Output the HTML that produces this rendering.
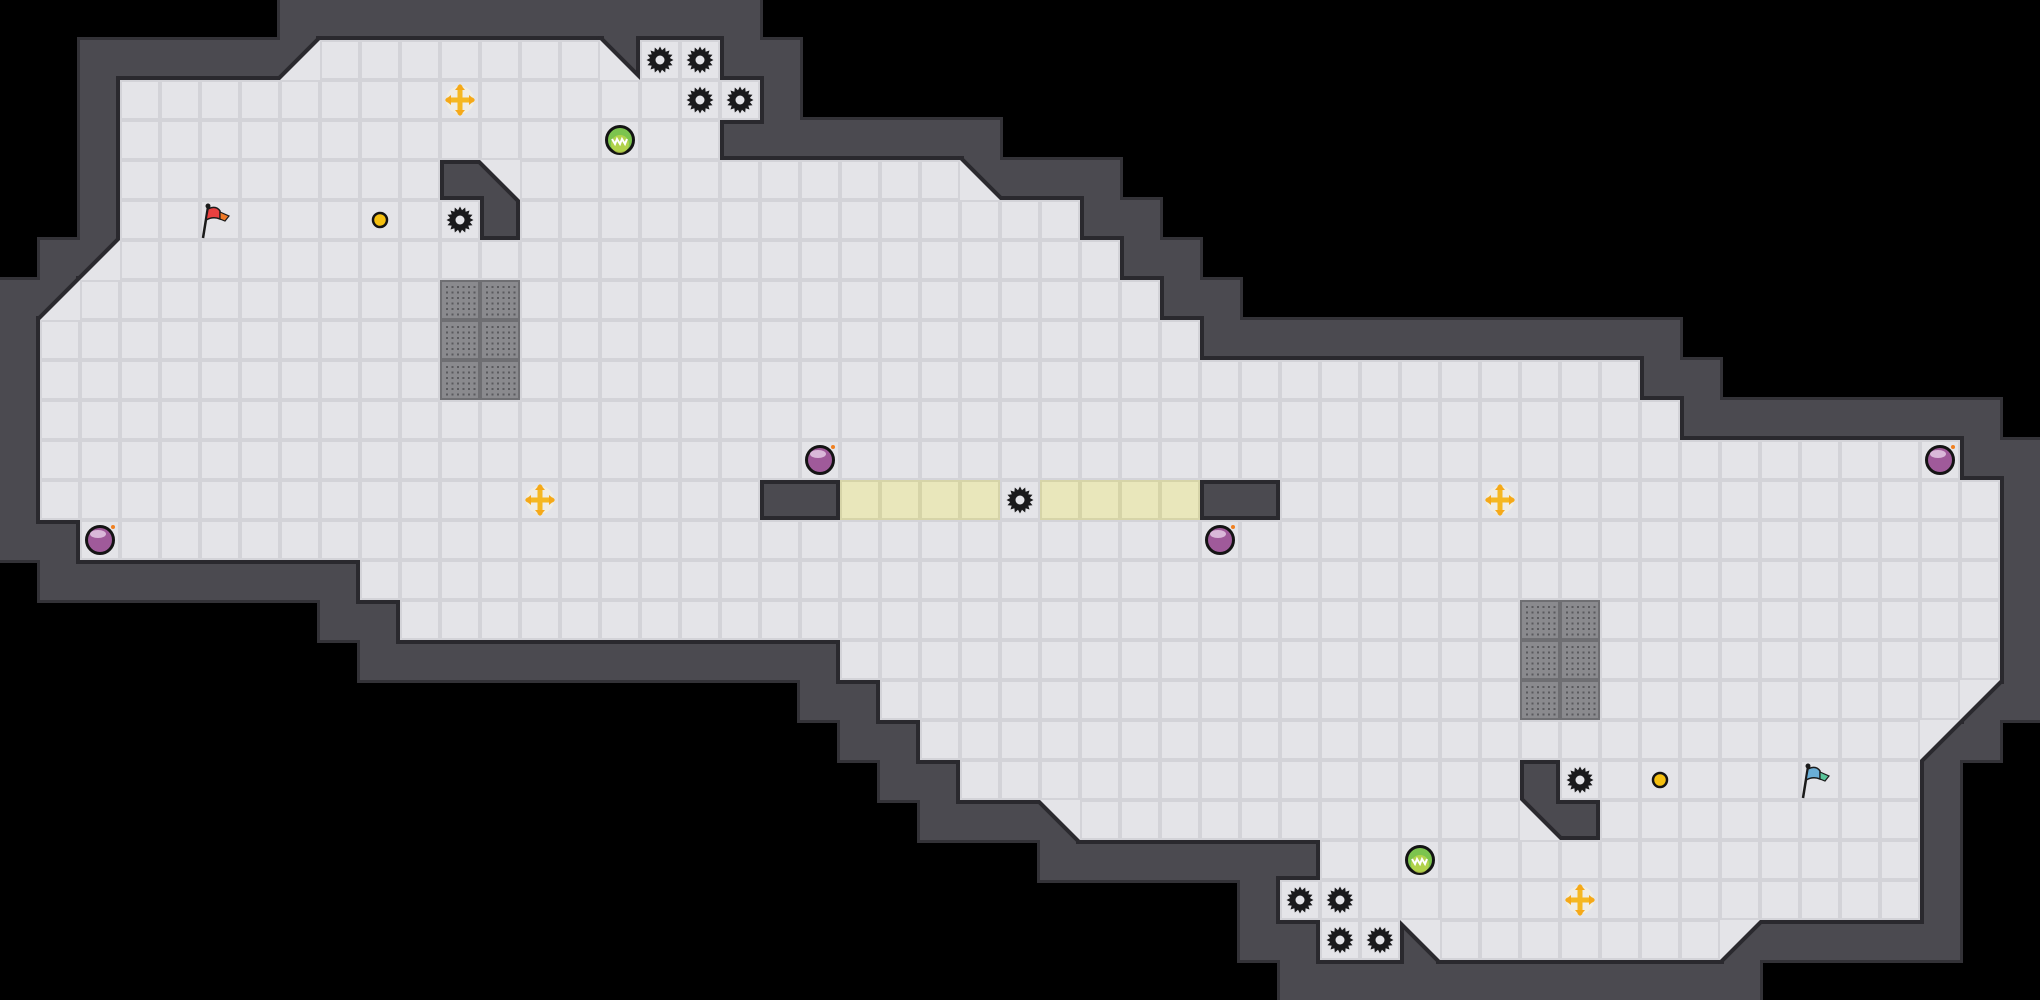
<!DOCTYPE html>
<html><head><meta charset="utf-8"><style>
html,body{margin:0;padding:0;background:#000;width:2040px;height:1000px;overflow:hidden}
svg{display:block}
</style></head><body>
<svg id="s" width="2040" height="1000" viewBox="0 0 2040 1000" xmlns="http://www.w3.org/2000/svg">
<rect width="2040" height="1000" fill="#000"/>
<g id="walls"></g><g id="outl"></g><g id="floor"></g><g id="items"></g>
</svg>
<script>
(function(){
var T=40,NS="http://www.w3.org/2000/svg";
var rows={1:[[8,14],[16,17]],2:[[3,18]],3:[[3,17]],4:[[3,10],[13,23]],5:[[3,11],[13,26]],6:[[3,27]],7:[[2,28]],8:[[1,29]],9:[[1,40]],10:[[1,41]],11:[[1,48]],12:[[1,18],[21,29],[32,49]],13:[[2,49]],14:[[9,49]],15:[[10,49]],16:[[21,49]],17:[[22,48]],18:[[23,47]],19:[[24,37],[39,47]],20:[[27,37],[40,47]],21:[[33,47]],22:[[32,47]],23:[[33,34],[36,42]]};
var diags=[[7,1,"br"],[15,1,"bl"],[12,4,"tr"],[24,4,"bl"],[2,6,"br"],[1,7,"br"],[49,17,"tl"],[48,18,"tl"],[26,20,"tr"],[38,20,"bl"],[35,23,"tr"],[43,23,"tl"]];
var F={},D={};
for(var r in rows){rows[r].forEach(function(a){for(var c=a[0];c<=a[1];c++)F[c+","+r]=1;});}
diags.forEach(function(d){D[d[0]+","+d[1]]=d[2];});
function el(t,a,p){var e=document.createElementNS(NS,t);for(var k in a)e.setAttribute(k,a[k]);document.getElementById(p).appendChild(e);return e;}
var W={};
for(var k in F){var p=k.split(",").map(Number);for(var dx=-1;dx<=1;dx++)for(var dy=-1;dy<=1;dy++){var q=(p[0]+dx)+","+(p[1]+dy);if(!F[q])W[q]=1;}}
for(var k in W){var p=k.split(",").map(Number);el("rect",{x:p[0]*T-3,y:p[1]*T-3,width:T+6,height:T+6,fill:"#333237"},"walls");}
for(var k in W){var p=k.split(",").map(Number);el("rect",{x:p[0]*T,y:p[1]*T,width:T,height:T,fill:"#4b4a50"},"walls");}
function tri(c,r,t){var x=c*T,y=r*T,X=x+T,Y=y+T;var m={br:[[X,y],[X,Y],[x,Y]],bl:[[x,y],[x,Y],[X,Y]],tl:[[x,y],[X,y],[x,Y]],tr:[[x,y],[X,y],[X,Y]]}[t];return m.map(function(a){return a.join(",")}).join(" ");}
for(var k in F){var p=k.split(",").map(Number);el("rect",{x:p[0]*T-4,y:p[1]*T-4,width:T+8,height:T+8,fill:"#2a292e"},"outl");}
diags.forEach(function(d){el("polygon",{points:tri(d[0],d[1],d[2]),fill:"#2a292e",stroke:"#2a292e","stroke-width":8,"stroke-linejoin":"round"},"outl");});
var yellow={};[21,22,23,24,26,27,28,29].forEach(function(c){yellow[c+",12"]=1;});
var grate={};[[11,7],[12,7],[11,8],[12,8],[11,9],[12,9],[38,15],[39,15],[38,16],[39,16],[38,17],[39,17]].forEach(function(a){grate[a[0]+","+a[1]]=1;});
diags.forEach(function(d){el("polygon",{points:tri(d[0],d[1],d[2]),fill:"#e4e4e8"},"floor");});
for(var k in F){var p=k.split(",").map(Number),x=p[0]*T,y=p[1]*T;
 var base="#d3d3d8",tcol="#e4e4e8";
 if(yellow[k]){base="#d6d4a8";tcol="#e9e7bb";}
 if(grate[k]){base="#6e6e72";tcol="#8a8a8e";}
 el("rect",{x:x,y:y,width:T,height:T,fill:base},"floor");
 el("rect",{x:x+2,y:y+2,width:T-4,height:T-4,fill:tcol},"floor");
 if(grate[k]){for(var i=0;i<6;i++)for(var j=0;j<6;j++)el("rect",{x:x+6+i*5.5,y:y+6+j*5.5,width:2,height:2,fill:"#5a5a5e"},"floor");}
}
function cx(c){return c*T+20}
function gear(c,r){var X=cx(c),Y=cx(r),pts=[];for(var i=0;i<32;i++){var a=i*Math.PI/16,R=i%2?10:13.5;pts.push((X+R*Math.cos(a)).toFixed(1)+","+(Y+R*Math.sin(a)).toFixed(1));}
 el("polygon",{points:pts.join(" "),fill:"#1a1a1c"},"items");el("circle",{cx:X,cy:Y,r:4.5,fill:"#e4e4e8"},"items");}
[[16,1],[17,1],[17,2],[18,2],[11,5],[25,12],[39,19],[32,22],[33,22],[33,23],[34,23]].forEach(function(a){gear(a[0],a[1]);});
function star(c,r){var X=cx(c),Y=cx(r);el("circle",{cx:X,cy:Y,r:14,fill:"#f2efe0",opacity:0.8},"items");
 el("path",{d:"M"+(X-12)+","+Y+"H"+(X+12)+"M"+X+","+(Y-13)+"V"+(Y+13),stroke:"#f5b820","stroke-width":5,"stroke-linecap":"round"},"items");
 [[X-15,Y,1,0],[X+15,Y,-1,0],[X,Y-16,0,1],[X,Y+16,0,-1]].forEach(function(a){var px=a[0],py=a[1],ux=a[2],uy=a[3];el("polygon",{points:px+","+py+" "+(px+ux*6-uy*5)+","+(py+uy*6-ux*5)+" "+(px+ux*6+uy*5)+","+(py+uy*6+ux*5),fill:"#f5a818"},"items");});}
[[11,2],[13,12],[37,12],[39,22]].forEach(function(a){star(a[0],a[1]);});
function green(c,r){var X=cx(c),Y=cx(r);el("circle",{cx:X,cy:Y,r:13.5,fill:"#7cc44e",stroke:"#141414","stroke-width":3},"items");
 el("circle",{cx:X,cy:Y+4,r:9,fill:"#c8d84a",opacity:0.7},"items");
 el("path",{d:"M"+(X-8)+","+(Y-1)+"l3,5l2,-5l3,5l2,-5l3,5l2,-5",stroke:"#fff","stroke-width":2,fill:"none"},"items");}
[[15,3],[35,21]].forEach(function(a){green(a[0],a[1]);});
function bomb(c,r){var X=cx(c),Y=cx(r);el("circle",{cx:X,cy:Y,r:13.5,fill:"#a05a9a",stroke:"#141414","stroke-width":3},"items");
 el("ellipse",{cx:X-2,cy:Y-6,rx:8,ry:4,fill:"#e8d0e8",opacity:0.8},"items");el("circle",{cx:X+13,cy:Y-13,r:2,fill:"#f08020"},"items");}
[[20,11],[48,11],[2,13],[30,13]].forEach(function(a){bomb(a[0],a[1]);});
[[9,5],[41,19]].forEach(function(a){el("circle",{cx:cx(a[0]),cy:cx(a[1]),r:7,fill:"#f5c010",stroke:"#141414","stroke-width":2.5},"items");});
function flag(c,r,col,col2){var x=c*T,y=r*T;el("line",{x1:x+3,y1:y+38,x2:x+8,y2:y+7,stroke:"#1a1a1a","stroke-width":2.5},"items");
 el("circle",{cx:x+8,cy:y+6,r:2.5,fill:"#1a1a1a"},"items");
 el("path",{d:"M"+(x+8)+","+(y+9)+"q8,-4 12,2 l0,8 q-7,-3 -14,1z",fill:col,stroke:"#1a1a1a","stroke-width":1.5},"items");
 el("path",{d:"M"+(x+20)+","+(y+12)+"l9,4 -4,5 -5,-2z",fill:col2,stroke:"#1a1a1a","stroke-width":1.2},"items");}
flag(5,5,"#e84040","#f07a28");flag(45,19,"#6aaed6","#5ac49a");
})();
</script>
</body></html>
